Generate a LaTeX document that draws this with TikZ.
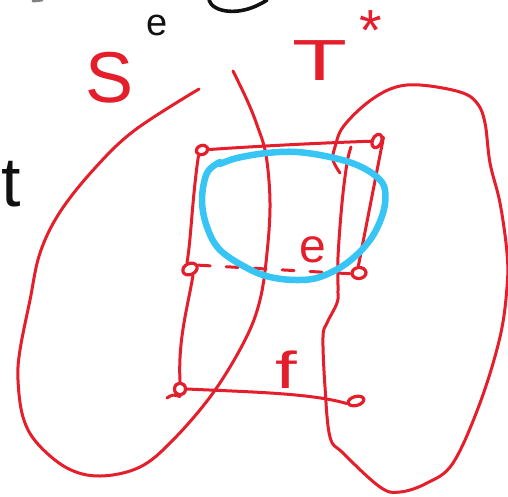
\documentclass[tikz,border=0pt]{standalone}
\usepackage{fontspec}
\setmainfont{Liberation Sans}
\usetikzlibrary{shapes.geometric}
\definecolor{pen}{HTML}{E41E2B}
\definecolor{sky}{HTML}{36C5F4}
\definecolor{ink}{HTML}{111111}
\begin{document}
\begin{tikzpicture}[x=1pt,y=-1pt, line cap=round, line join=round,
  redline/.style={draw=pen, line width=3pt},
  vert/.style={ellipse, draw=pen, line width=3.2pt, minimum width=14pt, minimum height=9pt, inner sep=0pt},
  lab/.style={text=pen, inner sep=0pt},
  blab/.style={text=ink, inner sep=0pt}]
\useasboundingbox[fill=white] (0,0) rectangle (508,496);

% black fragments at top
\draw[ink, line width=3.6pt] (209,0) .. controls (212,12) and (240,18) .. (267,0);
\draw[gray, line width=3pt] (33,1) -- (42,0);
\node[blab, anchor=base] (e0) at (157,35) {\fontsize{38}{38}\selectfont e};
\node[blab] (tt) at (11,184) {\fontsize{70}{70}\selectfont t};

% labels
\node[lab] (S) at (110,78) {\fontsize{72}{72}\selectfont S};
\node[lab, anchor=base west] (T) at (292,80) {\fontsize{58}{58}\selectfont \scalebox{1.55}[1]{T}\kern12pt\raisebox{30pt}{\fontsize{58}{58}\selectfont *}};

% big left curve (S)
\draw[redline] plot[smooth, tension=0.6] coordinates {(233,71) (247,100) (257,125) (266,155) (270,203) (267,253) (260,300) (245,340) (213,393) (173,440) (140,467) (100,476) (67,468) (37,443) (23,417) (18,380) (20,350) (30,300) (40,253) (60,212) (95,168) (135,130) (199,89)};

% right blob (T)
\draw[redline] plot[smooth, tension=0.6] coordinates {(340,173) (333,160) (335,147) (343,127) (367,103) (393,88) (420,85) (460,92) (477,103) (485,123) (490,163) (500,203) (507,253) (507,287) (500,337) (480,403) (453,463) (427,483) (400,492) (380,487) (343,453) (330,437) (325,387) (323,337) (327,323) (337,303) (338,290) (338,257) (342,203) (347,163) (351,147)};

% vertices
\node[vert, rotate=20, minimum width=12pt] (tl) at (202,150) {};
\node[vert, rotate=65] (tr) at (377,141) {};
\node[vert, rotate=25, minimum width=15pt, minimum height=11pt] (ml) at (190,269) {};
\node[vert, rotate=5, minimum height=11pt] (mr) at (359,273) {};
\node[vert, minimum width=11pt, minimum height=12pt] (bl) at (180,389) {};
\node[vert, rotate=15, minimum width=16pt] (br) at (356,401) {};
\coordinate (blt) at (167,398);

% edges
\draw[redline] (tl) .. controls (260,146) and (320,143) .. (tr);
\draw[redline] (tl.south west) .. controls (192,200) and (191,240) .. (ml.north);
\draw[redline] (ml.south) .. controls (187,310) and (178,340) .. (bl.north);
\draw[redline] (tr.south east) -- (mr.north);
\draw[redline, dash pattern=on 12pt off 16pt] (ml.east) -- (mr.west);
\draw[redline] (bl.east) .. controls (250,392) and (310,393) .. (br.west);
\draw[redline] (blt) .. controls (171,395) and (174,394) .. (bl.south);

% blue loop
\draw[sky, line width=6.5pt] plot[smooth, tension=0.6] coordinates {(220,162) (207,173) (202,200) (207,227) (220,250) (247,268) (270,277) (297,280) (320,277) (347,263) (370,240) (383,213) (385,190) (377,177) (357,165) (330,157) (297,152) (267,153) (237,158) (220,164)};

% edge labels
\node[lab] (e1) at (313,250) {\fontsize{48}{48}\selectfont e};
\node[lab] (f) at (286,370) {\fontsize{52}{52}\selectfont\scalebox{1.5}[1]{f}};
\end{tikzpicture}
\end{document}
